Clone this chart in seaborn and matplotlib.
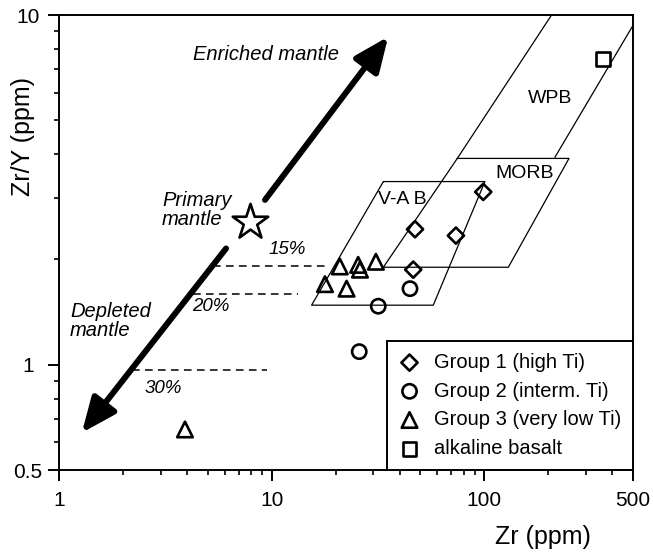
import numpy as np
import pandas as pd
import matplotlib
matplotlib.use('Agg')
import matplotlib.pyplot as plt
import seaborn as sns
from matplotlib.ticker import NullFormatter

# 样品数据
group1_zr = [98.8, 47.2, 73.5, 46.3]
group1_zry = [3.12, 2.44, 2.34, 1.87]
group2_zr = [44.7, 31.7, 25.8]
group2_zry = [1.65, 1.47, 1.09]
group3_zr = [20.9, 25.5, 26.0, 30.9, 17.8, 22.5, 3.91]
group3_zry = [1.91, 1.93, 1.87, 1.97, 1.70, 1.65, 0.653]
alk_zr = [362]
alk_zry = [7.47]
primary_zr = [7.91]
primary_zry = [2.56]

group_names = ['Group 1 (high Ti)', 'Group 2 (interm. Ti)',
               'Group 3 (very low Ti)', 'alkaline basalt']
group_markers = ['D', 'o', '^', 's']
group_sizes = [68, 105, 125, 100]

# 构造区域（Zr, Zr/Y 顶点）
vab_zr = [33.5, 100.6, 57.5, 15.4, 33.5]
vab_zry = [3.34, 3.34, 1.48, 1.48, 3.34]
morb_zr = [74.6, 250, 129.6, 33.5, 74.6]
morb_zry = [3.89, 3.89, 1.90, 1.90, 3.89]
wpb_left_zr = [207, 74.6]
wpb_left_zry = [10, 3.89]
wpb_right_zr = [501, 214.7]
wpb_right_zry = [9.36, 3.92]

# 部分熔融线
melt_labels = ['15%', '20%', '30%']
melt_zr_start = [5.30, 4.27, 2.20]
melt_zr_end = [18.4, 13.3, 9.47]
melt_zry = [1.916, 1.59, 0.966]
melt_label_zr = [11.8, 5.18, 3.08]
melt_label_zry = [2.13, 1.47, 0.856]

df = pd.DataFrame({
    'Zr': group1_zr + group2_zr + group3_zr + alk_zr,
    'ZrY': group1_zry + group2_zry + group3_zry + alk_zry,
    'group': ([group_names[0]] * len(group1_zr) + [group_names[1]] * len(group2_zr)
              + [group_names[2]] * len(group3_zr) + [group_names[3]] * len(alk_zr)),
})

sns.set_style('ticks')
plt.rcParams['font.family'] = ['Liberation Sans', 'DejaVu Sans']
plt.rcParams['text.color'] = 'black'
plt.rcParams['axes.labelcolor'] = 'black'

fig = plt.figure(figsize=(6.53, 5.58), dpi=100)
ax = fig.add_axes([0.0904, 0.1577, 0.8790, 0.8154])
ax.set_xscale('log')
ax.set_yscale('log')

# 构造区域线
for xs, ys in [(vab_zr, vab_zry), (morb_zr, morb_zry),
               (wpb_left_zr, wpb_left_zry), (wpb_right_zr, wpb_right_zry)]:
    ax.plot(xs, ys, color='black', lw=0.9, zorder=2)

for x0, x1, y in zip(melt_zr_start, melt_zr_end, melt_zry):
    ax.plot([x0, x1], [y, y], color='black', lw=1.1, linestyle=(0, (5, 3.5)), zorder=2)
for lab, x, y in zip(melt_labels, melt_label_zr, melt_label_zry):
    ax.text(x, y, lab, fontsize=13.5, style='italic', ha='center', va='center')

# 样品点
for name, m, s in zip(group_names, group_markers, group_sizes):
    sns.scatterplot(data=df[df['group'] == name], x='Zr', y='ZrY', marker=m, s=s,
                    color='black', facecolor='none', edgecolor='black',
                    linewidth=1.9, label=name, ax=ax, zorder=5)

sns.scatterplot(x=primary_zr, y=primary_zry, marker='*', s=720, color='black',
                facecolor='white', edgecolor='black', linewidth=1.9, ax=ax, zorder=5)

# 地幔演化箭头
arrow_kw = dict(arrowstyle='-|>,head_length=1.05,head_width=0.45', lw=4.3,
                color='black', mutation_scale=20, shrinkA=0, shrinkB=0)
ax.annotate('', xy=(35.3, 8.67), xytext=(9.30, 2.96), arrowprops=arrow_kw, zorder=4)
ax.annotate('', xy=(1.28, 0.639), xytext=(6.10, 2.15), arrowprops=arrow_kw, zorder=4)

ax.text(4.26, 7.69, 'Enriched mantle', fontsize=14.5, style='italic', va='center')
ax.text(3.05, 2.77, 'Primary\nmantle', fontsize=14.5, style='italic', va='center',
        linespacing=1.0)
ax.text(1.127, 1.33, 'Depleted\nmantle', fontsize=14.5, style='italic', va='center',
        linespacing=1.0)
ax.text(203, 5.79, 'WPB', fontsize=14, ha='center', va='center')
ax.text(155, 3.53, 'MORB', fontsize=14, ha='center', va='center')
ax.text(41.0, 2.96, 'V-A B', fontsize=14, ha='center', va='center')

ax.set_xlim(1, 500)
ax.set_ylim(0.5, 10)
ax.set_xticks([1, 10, 100, 500])
ax.set_xticklabels(['1', '10', '100', '500'])
ax.set_yticks([0.5, 1, 10])
ax.set_yticklabels(['0.5', '1', '10'])
ax.xaxis.set_minor_formatter(NullFormatter())
ax.yaxis.set_minor_formatter(NullFormatter())
ax.tick_params(which='major', length=8, width=1.4, labelsize=15, color='black',
               labelcolor='black')
ax.tick_params(which='minor', length=3.5, width=1.2, color='black')
ax.tick_params(axis='x', which='major', pad=7)
ax.tick_params(axis='y', which='major', pad=14.4)
for lab in ax.get_yticklabels():
    lab.set_horizontalalignment('center')
for sp in ax.spines.values():
    sp.set_visible(True)
    sp.set_linewidth(1.4)
    sp.set_color('black')

ax.set_xlabel('Zr (ppm)', fontsize=18)
ax.set_ylabel('Zr/Y (ppm)', fontsize=18)
ax.xaxis.set_label_coords(0.843, -0.12)
ax.yaxis.set_label_coords(-0.042, 0.732)

leg = ax.legend(loc='lower right', borderaxespad=0, fontsize=14.5, frameon=True,
                fancybox=False, edgecolor='black', handlelength=1.0,
                handletextpad=0.7, labelspacing=0.48, borderpad=0.6)
leg.get_frame().set_linewidth(1.4)
leg.get_frame().set_alpha(1)
for t in leg.get_texts():
    t.set_color('black')

fig.savefig('out.png', dpi=100)
